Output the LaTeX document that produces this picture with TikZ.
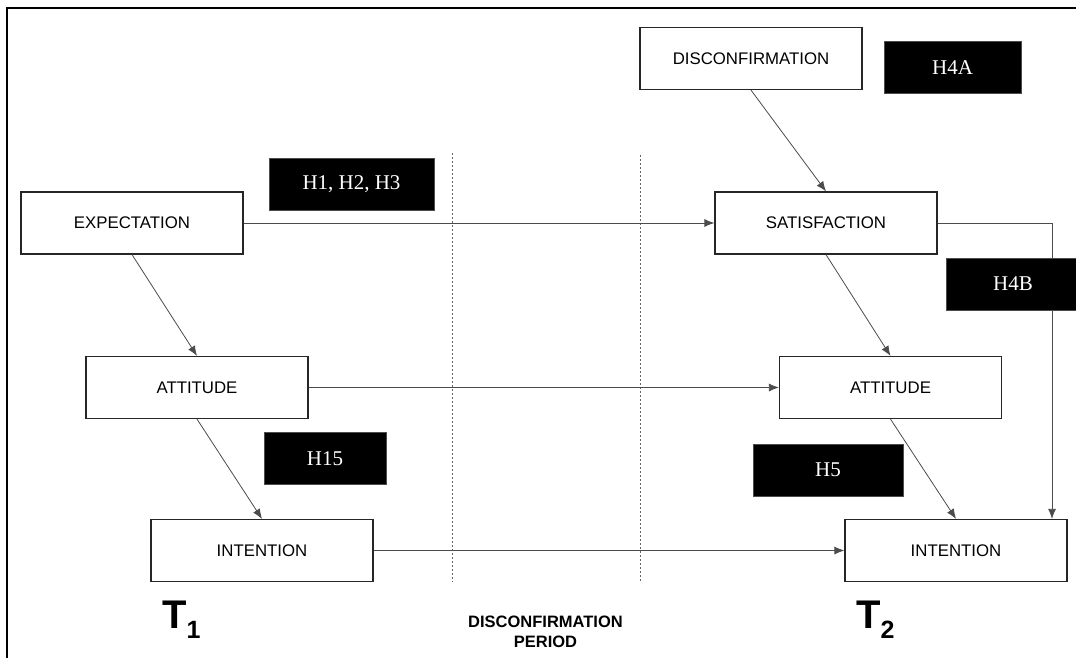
\documentclass[tikz,border=0pt]{standalone}
\usepackage{fontspec}
\setmainfont{Liberation Serif}
\setsansfont{Liberation Sans}
\usetikzlibrary{arrows.meta}
\begin{document}
\begin{tikzpicture}[x=1pt,y=-1pt,
  construct/.style={draw=black!85,line width=1.2pt,fill=white,inner sep=0pt,
    minimum width=222pt,minimum height=62pt,
    font=\sffamily\fontsize{16.8}{19}\selectfont},
  hyp/.style={fill=black,draw=black!70,line width=0.5pt,text=white,inner sep=0pt,
    minimum height=52pt,font=\rmfamily\fontsize{21}{24}\selectfont},
  link/.style={draw=black!70,line width=0.8pt,-{Latex[length=10pt,width=8pt]}},
  period/.style={draw=black!60,dash pattern=on 2pt off 2pt,line width=0.6pt},
  timelabel/.style={anchor=base west,inner sep=0pt,font=\sffamily\bfseries\fontsize{40}{40}\selectfont},
  periodlabel/.style={align=center,inner sep=0pt,font=\sffamily\bfseries\fontsize{16.5}{20}\selectfont}
]
\useasboundingbox (0,0) rectangle (1076,658);
\fill[white] (0,0) rectangle (1076,658);
% outer frame (top and left edges)
\draw[line width=1.8pt] (1076,8) -- (7,8) -- (7,658);

% disconfirmation period boundaries
\draw[period] (452,153) -- (452,582);
\draw[period] (640,155) -- (640,582);

% constructs
\node[construct] (disc) at (751,58.5) {DISCONFIRMATION};
\node[construct] (exp)  at (132,223)  {EXPECTATION};
\node[construct] (sat)  at (826,223)  {SATISFACTION};
\node[construct] (att1) at (197,387.5) {ATTITUDE};
\node[construct] (att2) at (890.5,387.5) {ATTITUDE};
\node[construct] (int1) at (262,550.5) {INTENTION};
\node[construct] (int2) at (956,550.5) {INTENTION};

% relationships
\draw[link] (disc.south) -- (sat.north);
\draw[link] (exp.east) -- (sat.west);
\draw[link] (exp.south) -- (att1.north);
\draw[link] (sat.south) -- (att2.north);
\draw[link] (att1.east) -- (att2.west);
\draw[link] (att1.south) -- (int1.north);
\draw[link] (att2.south) -- (int2.north);
\draw[link] (int1.east) -- (int2.west);
\coordinate (bend) at (1052,223);
\draw[link] (sat.east) -- (bend) -- (bend |- int2.north);

% hypothesis labels
\node[hyp,minimum width=137pt] (h4a) at (952.5,67.5) {H4A};
\node[hyp,minimum width=165pt] (h123) at (351.5,184) {H1, H2, H3};
\node[hyp,minimum width=134pt] (h4b) at (1013,284) {H4B};
\node[hyp,minimum width=122pt] (h15) at (325,458.5) {H15};
\node[hyp,minimum width=150pt] (h5) at (828,470) {H5};

% time points
\node[timelabel] (t1) at (162,628) {T\raisebox{-10pt}{\fontsize{25}{25}\selectfont 1}};
\node[timelabel] (t2) at (856,628) {T\raisebox{-10pt}{\fontsize{25}{25}\selectfont 2}};
\node[periodlabel,anchor=base] (per) at (545.5,647) {DISCONFIRMATION\\PERIOD};
\end{tikzpicture}
\end{document}
